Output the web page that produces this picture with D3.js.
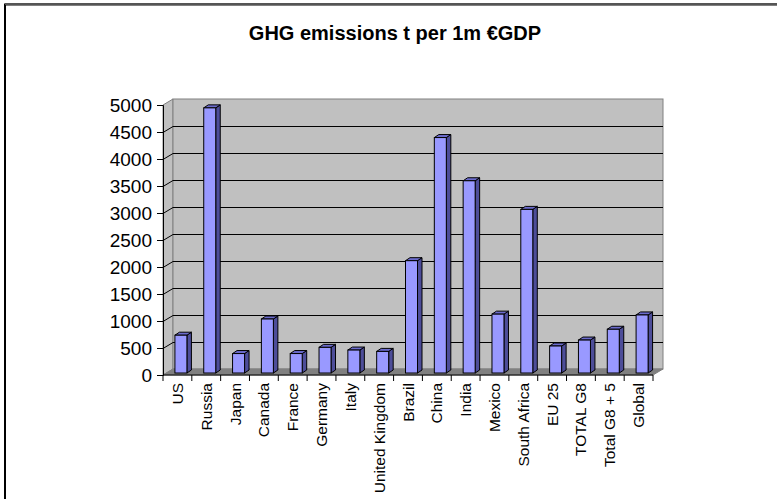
<!doctype html>
<html>
<head>
<meta charset="utf-8">
<script src="https://d3js.org/d3.v7.min.js"></script>
<style>
  body { margin: 0; background: #fff; }
  text { font-family: Arial, "Liberation Sans", sans-serif; }
</style>
</head>
<body>
<div id="chart"></div>
<script>
// data
var countries = ["US", "Russia", "Japan", "Canada", "France", "Germany", "Italy",
  "United Kingdom", "Brazil", "China", "India", "Mexico", "South Africa",
  "EU 25", "TOTAL G8", "Total G8 + 5", "Global"];
var emissions = [700, 4910, 360, 1000, 360, 475, 425, 400, 2080, 4360, 3560,
  1090, 3030, 500, 610, 810, 1075];
var yTicks = [0, 500, 1000, 1500, 2000, 2500, 3000, 3500, 4000, 4500, 5000];

var W = 777, H = 499;
var plotLeft = 163, plotRight = 653, plotBase = 375, plotTop = 105;
var dx = 10, dy = -6;          // depth of the 3d box
var bx = 3.5, by = -2;         // where the bars sit inside the depth
var bdx = 4.5, bdy = -3;       // bar depth
var barW = 12;

var svg = d3.select("#chart").append("svg")
    .attr("width", W).attr("height", H);

// outer frame (right/bottom edges fall outside the picture)
svg.append("rect")
    .attr("x", 5).attr("y", 4.5).attr("width", W + 10).attr("height", H + 10)
    .attr("fill", "#fff").attr("stroke", "#000").attr("stroke-width", 2);
svg.append("line").attr("x1", 5).attr("x2", W).attr("y1", 4).attr("y2", 4)
    .attr("stroke", "#555").attr("stroke-width", 2);

svg.append("text")
    .attr("x", 395).attr("y", 40)
    .attr("text-anchor", "middle")
    .style("font-size", "20px").style("font-weight", "bold")
    .text("GHG emissions t per 1m \u20ACGDP");

var x = d3.scaleBand().domain(countries).range([plotLeft, plotRight]);
var y = d3.scaleLinear().domain([0, 5000]).range([plotBase, plotTop]);

// side wall
svg.append("path")
    .attr("d", "M" + plotLeft + "," + y(5000) + "L" + (plotLeft + dx) + "," + (y(5000) + dy) +
      "L" + (plotLeft + dx) + "," + (plotBase + dy) + "L" + plotLeft + "," + plotBase + "Z")
    .attr("fill", "#c0c0c0").attr("stroke", "#808080");
// back wall
svg.append("rect")
    .attr("x", plotLeft + dx).attr("y", y(5000) + dy)
    .attr("width", plotRight - plotLeft).attr("height", plotBase - y(5000))
    .attr("fill", "#c0c0c0").attr("stroke", "#808080");
// floor
svg.append("path")
    .attr("d", "M" + plotLeft + "," + plotBase + "L" + (plotLeft + dx) + "," + (plotBase + dy) +
      "L" + (plotRight + dx) + "," + (plotBase + dy) + "L" + plotRight + "," + plotBase + "Z")
    .attr("fill", "#808080").attr("stroke", "#808080");

// grid lines
var grid = svg.append("g");
yTicks.filter(function(d) { return d > 0 && d < 5000; }).forEach(function(d) {
  var gy = Math.round(y(d)) + 0.5;
  grid.append("path")
      .attr("d", "M" + plotLeft + "," + gy + "L" + (plotLeft + dx) + "," + (gy + dy) +
        "L" + (plotRight + dx) + "," + (gy + dy))
      .attr("fill", "none").attr("stroke", "#000").attr("stroke-width", 1);
});

// bars
var bars = svg.append("g").selectAll("g")
    .data(countries.map(function(c, i) { return { c: c, v: emissions[i] }; }))
  .enter().append("g");

function bx0(d) { return x(d.c) + (x.bandwidth() - barW) / 2 + bx; }
function byTop(d) { return y(d.v) + by; }
function byBase() { return plotBase + by; }

bars.append("path")   // side face
    .attr("d", function(d) {
      var x1 = bx0(d) + barW;
      return "M" + x1 + "," + byTop(d) + "L" + (x1 + bdx) + "," + (byTop(d) + bdy) +
        "L" + (x1 + bdx) + "," + (byBase() + bdy) + "L" + x1 + "," + byBase() + "Z";
    })
    .attr("fill", "#4d4d99").attr("stroke", "#000").attr("stroke-linejoin", "round");
bars.append("path")   // top face
    .attr("d", function(d) {
      var x0 = bx0(d), t = byTop(d);
      return "M" + x0 + "," + t + "L" + (x0 + bdx) + "," + (t + bdy) +
        "L" + (x0 + barW + bdx) + "," + (t + bdy) + "L" + (x0 + barW) + "," + t + "Z";
    })
    .attr("fill", "#6b6bcc").attr("stroke", "#000").attr("stroke-linejoin", "round");
bars.append("rect")   // front face
    .attr("x", bx0).attr("y", byTop)
    .attr("width", barW).attr("height", function(d) { return byBase() - byTop(d); })
    .attr("fill", "#9999ff").attr("stroke", "#000");

// y axis
var yAxis = svg.append("g")
    .attr("transform", "translate(" + plotLeft + ",0)")
    .call(d3.axisLeft(y).tickValues(yTicks).tickSize(6).tickPadding(5).tickFormat(d3.format("d")));
yAxis.selectAll("text").style("font-size", "19px").attr("fill", "#000");
yAxis.select(".domain").attr("stroke", "#000");

// x axis
var xAxis = svg.append("g")
    .attr("transform", "translate(0," + plotBase + ")");
xAxis.append("line").attr("x1", plotLeft).attr("x2", plotRight)
    .attr("stroke", "#000");
xAxis.selectAll("line.tick")
    .data(countries.concat(["end"]))
  .enter().append("line")
    .attr("class", "tick")
    .attr("x1", function(d, i) { return plotLeft + i * x.bandwidth(); })
    .attr("x2", function(d, i) { return plotLeft + i * x.bandwidth(); })
    .attr("y1", 0).attr("y2", 6)
    .attr("stroke", "#000");
xAxis.selectAll("text")
    .data(countries)
  .enter().append("text")
    .attr("transform", function(d) {
      return "translate(" + (x(d) + x.bandwidth() / 2 + 5.5) + ",8) rotate(-90)";
    })
    .attr("text-anchor", "end")
    .style("font-size", "15.5px")
    .text(function(d) { return d; });
</script>
</body>
</html>
